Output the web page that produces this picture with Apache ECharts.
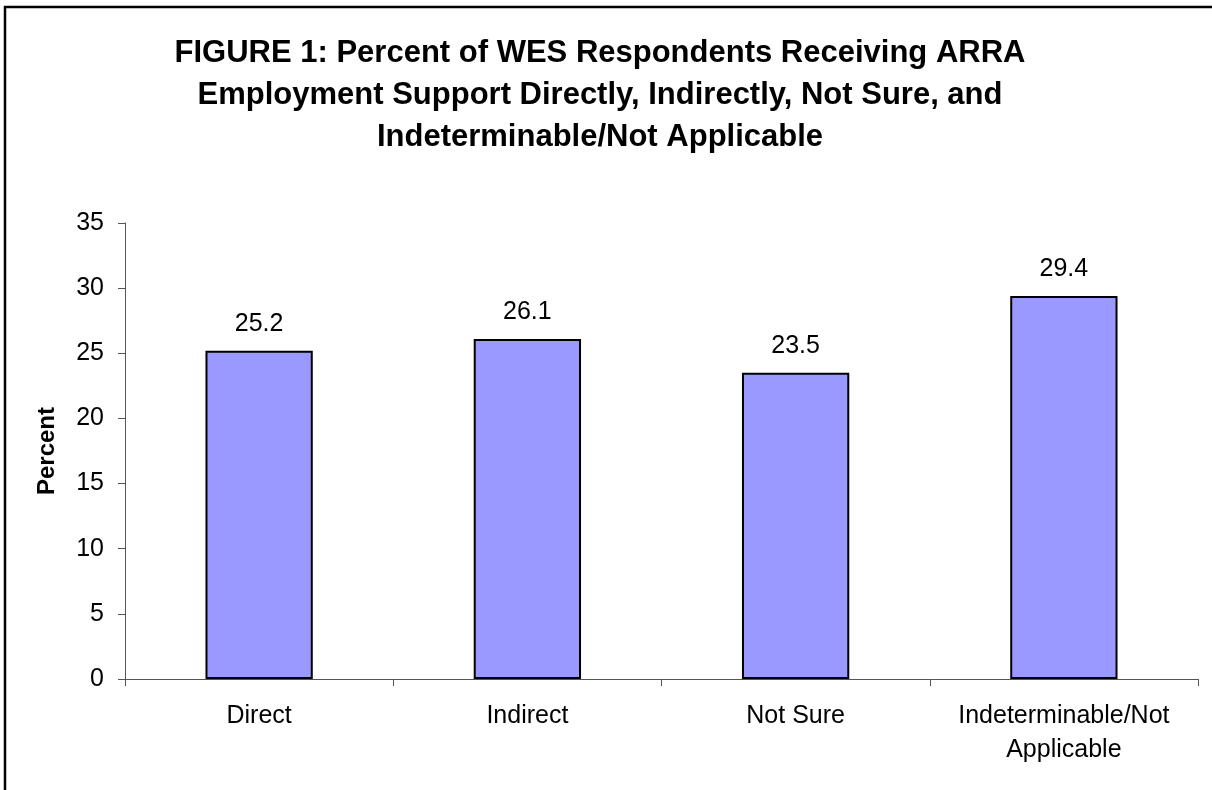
<!DOCTYPE html>
<html>
<head>
<meta charset="utf-8">
<script src="https://cdn.jsdelivr.net/npm/echarts@6/dist/echarts.min.js"></script>
<style>
html,body{margin:0;padding:0;background:#fff;}
#chart{width:1212px;height:790px;}
</style>
</head>
<body>
<div id="chart"></div>
<script>
const titleLines = [
  'FIGURE 1: Percent of WES Respondents Receiving ARRA',
  'Employment Support Directly, Indirectly, Not Sure, and',
  'Indeterminable/Not Applicable'
];
const categories = ['Direct', 'Indirect', 'Not Sure', 'Indeterminable/Not\nApplicable'];
const values = [25.2, 26.1, 23.5, 29.4];
const yAxisName = 'Percent';
const yMin = 0, yMax = 35, yInterval = 5;

const FONT = '"Liberation Sans", Arial, sans-serif';
const chart = echarts.init(document.getElementById('chart'), null, {renderer: 'canvas'});
chart.setOption({
  animation: false,
  backgroundColor: '#ffffff',
  title: {
    text: titleLines.join('\n'),
    left: 600,
    top: 32,
    padding: 0,
    textAlign: 'center',
    textStyle: {fontFamily: FONT, fontSize: 31, fontWeight: 'bold', color: '#000', lineHeight: 42}
  },
  graphic: [{
    type: 'rect',
    shape: {x: 5, y: 7, width: 1400, height: 1000},
    style: {fill: 'none', stroke: '#000', lineWidth: 2.5},
    silent: true
  }],
  grid: {left: 125, right: 14, top: 223, bottom: 111, containLabel: false},
  xAxis: {
    type: 'category',
    data: categories,
    axisLine: {lineStyle: {color: '#555', width: 1}},
    axisTick: {show: true, length: 7, alignWithLabel: false, lineStyle: {color: '#555'}},
    axisLabel: {fontFamily: FONT, fontSize: 25, color: '#000', margin: 20, lineHeight: 34, interval: 0}
  },
  yAxis: {
    type: 'value',
    min: yMin, max: yMax, interval: yInterval,
    name: yAxisName,
    nameLocation: 'middle',
    nameRotate: 90,
    nameGap: 66,
    nameTextStyle: {fontFamily: FONT, fontSize: 24, fontWeight: 'bold', color: '#000'},
    axisLine: {show: true, lineStyle: {color: '#555', width: 1}},
    axisTick: {show: true, length: 7, lineStyle: {color: '#555'}},
    splitLine: {show: false},
    axisLabel: {fontFamily: FONT, fontSize: 25, color: '#000', margin: 21}
  },
  series: [{
    type: 'bar',
    data: values,
    barWidth: '40%',
    itemStyle: {color: '#9999FF', borderColor: '#000', borderWidth: 2},
    label: {show: true, position: 'top', distance: 14, fontFamily: FONT, fontSize: 25, color: '#000',
      formatter: p => p.value.toFixed(1)}
  }]
});
</script>
</body>
</html>
